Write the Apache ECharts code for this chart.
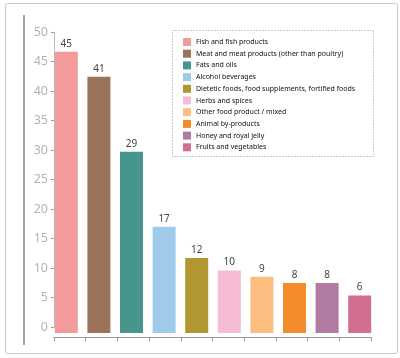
<!DOCTYPE html>
<html>
<head>
<meta charset="utf-8">
<script src="https://cdn.jsdelivr.net/npm/echarts@6/dist/echarts.min.js"></script>
<style>html,body{margin:0;padding:0;background:#fff;}#c{width:400px;height:358px;}</style>
</head>
<body>
<div id="c"></div>
<script>
var categories = ["Fish and fish products","Meat and meat products (other than poultry)","Fats and oils","Alcohol beverages","Dietetic foods, food supplements, fortified foods","Herbs and spices","Other food product / mixed","Animal by-products","Honey and royal jelly","Fruits and vegetables"];
var values = [45, 41, 29, 17, 12, 10, 9, 8, 8, 6];
var colors = ["#f39a9a","#9b735a","#46968e","#9ecbea","#b2962f","#f6bcd6","#fbbd80","#f28c2b","#b07aa1","#d16f8f"];
var yTicks = [0,5,10,15,20,25,30,35,40,45,50];

var chart = echarts.init(document.getElementById('c'), null, {renderer:'canvas'});
var series = categories.map(function(name, i){
  var d = values.map(function(v, j){ return j === i ? v : null; });
  return {
    name: name, type: 'bar', stack: 'all', xAxisIndex: 0, yAxisIndex: 0,
    barWidth: 23, data: d,
    itemStyle: { color: colors[i] },
    label: { show: true, position: 'top', distance: 3, color: '#444', fontSize: 10, fontFamily: 'Noto Sans',
      formatter: function(p){ return p.value == null ? '' : p.value; } }
  };
});
chart.setOption({
  animation: false,
  grid: [
    { left: 50, right: 24, top: 20.5, bottom: 25 },
    { left: 54, right: 29, top: 32, bottom: 31 },
    { left: 54, right: 29, top: 32, bottom: 21 }
  ],
  xAxis: [
    { type: 'category', gridIndex: 0, data: categories, show: false },
    { type: 'value', gridIndex: 1, min: 0, max: 10, show: false },
    { type: 'value', gridIndex: 2, min: 0, max: 10, interval: 1,
      axisLine: { show: true, lineStyle: { color: '#999', width: 1 } },
      axisTick: { show: true, length: 4, lineStyle: { color: '#999' } },
      axisLabel: { show: false }, splitLine: { show: false } }
  ],
  yAxis: [
    { type: 'value', gridIndex: 0, min: 0, max: 50, show: false },
    { type: 'value', gridIndex: 1, min: 0, max: 50, interval: 5,
      axisLine: { show: true, lineStyle: { color: '#bbb', width: 1 } },
      axisTick: { show: true, length: 3, lineStyle: { color: '#999' } },
      axisLabel: { color: '#b3b3b3', fontSize: 12.5, fontFamily: 'Noto Sans', margin: 6,
        customValues: yTicks },
      splitLine: { show: false } },
    { type: 'value', gridIndex: 2, min: 0, max: 50, show: false }
  ],
  legend: {
    orient: 'vertical', left: 178, top: 33,
    itemWidth: 8, itemHeight: 8, itemGap: 3.7, itemStyle: { borderWidth: 0 },
    icon: 'rect', selectedMode: false,
    textStyle: { fontSize: 7, color: '#111', fontFamily: 'Noto Sans', padding: [0,0,0,0] },
    data: categories
  },
  graphic: [
    { type: 'rect', shape: { x: 5.5, y: 3.5, width: 392, height: 350, r: 2 },
      style: { fill: 'none', stroke: '#bccbdb', lineWidth: 1 }, z: -1 },
    { type: 'line', shape: { x1: 24, y1: 15, x2: 24, y2: 345 },
      style: { stroke: '#888', lineWidth: 1.5 } },
    { type: 'rect', shape: { x: 172.5, y: 30.5, width: 201, height: 126 },
      style: { fill: 'none', stroke: '#999', lineWidth: 1, lineDash: [1, 2] } }
  ],
  series: series
});
</script>
</body>
</html>
